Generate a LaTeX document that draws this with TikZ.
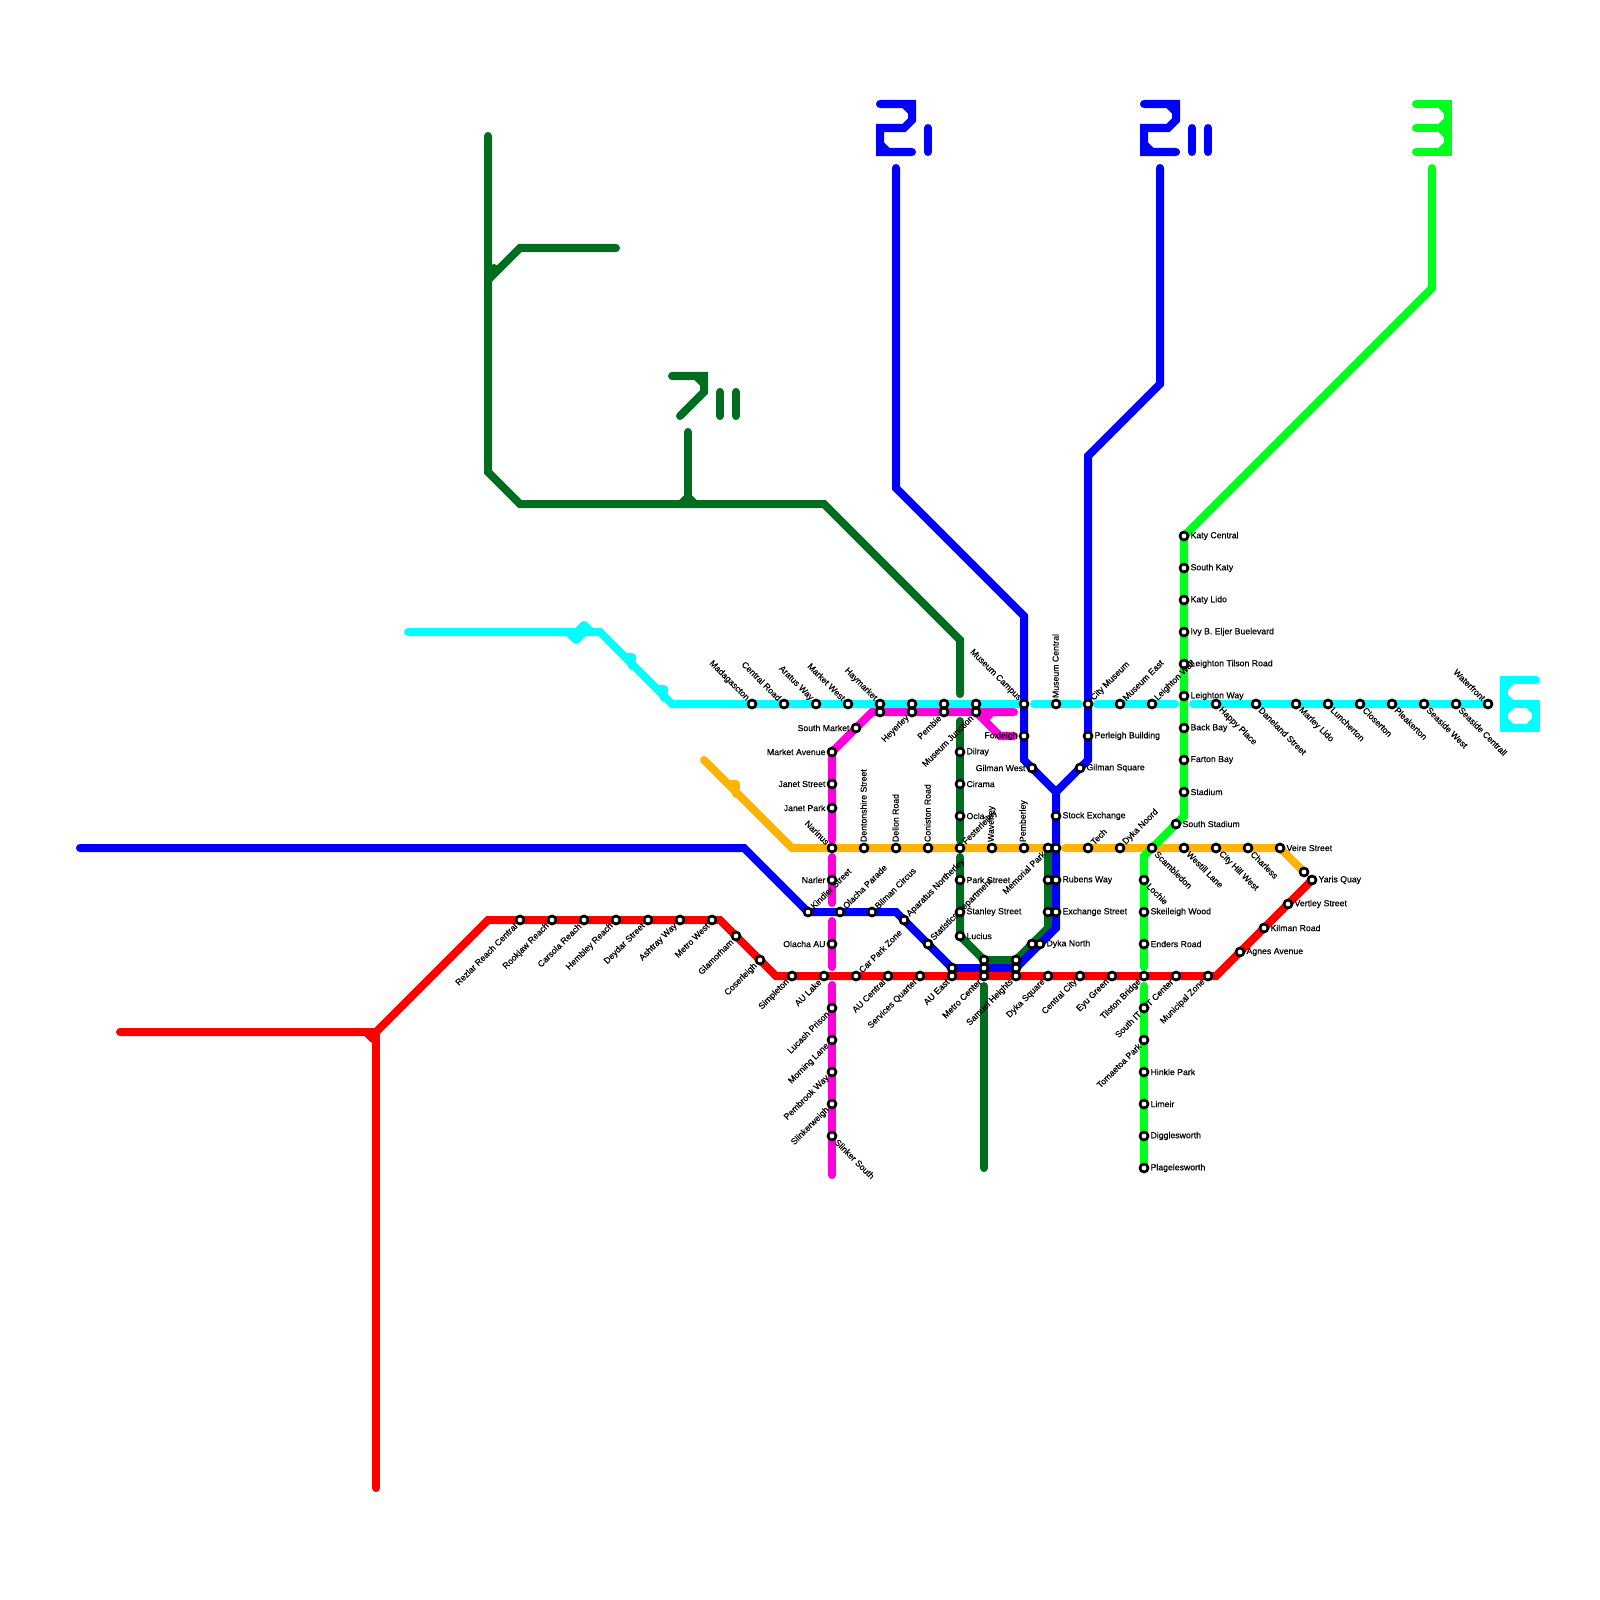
\documentclass[tikz,border=0pt]{standalone}
\usepackage{fontspec}
\setmainfont{Liberation Sans}
\newfontfamily\mapfont[FakeBold=0.5]{Liberation Sans}
\usetikzlibrary{backgrounds}
\definecolor{redline}{RGB}{255,0,0}
\definecolor{blueline}{RGB}{0,0,255}
\definecolor{cyanline}{RGB}{0,255,255}
\definecolor{pinkline}{RGB}{255,0,220}
\definecolor{amberline}{RGB}{255,180,0}
\definecolor{darkline}{RGB}{0,110,30}
\definecolor{limeline}{RGB}{0,255,30}
\tikzset{
  route/.style={draw=#1, line width=0.08cm, line cap=round, miter limit=4},
  stub/.style={draw=#1, line width=0.08cm, line cap=round, line join=round},
  stn/.style={draw=black, fill=white, circle, line width=0.027cm, minimum size=0.08cm,
              inner sep=0pt},
  slab/.style={font=\mapfont\fontsize{2.48}{3}\selectfont, inner sep=0pt, text=black},
  labr/.style={label={[slab, anchor=west]0:{#1}}},
  labl/.style={label={[slab, anchor=east]180:{#1}}},
  labu/.style={label={[slab, rotate=90, anchor=west]90:{#1}}},
  labur/.style={label={[slab, rotate=45, anchor=west]45:{#1}}},
  labul/.style={label={[slab, rotate=-45, anchor=east]135:{#1}}},
  labdl/.style={label={[slab, rotate=45, anchor=east]225:{#1}}},
  labdr/.style={label={[slab, rotate=-45, anchor=west]315:{#1}}},
}
\begin{document}
\begin{tikzpicture}[x=0.01cm, y=-0.01cm, label distance=0.005cm]
\useasboundingbox (0,0) rectangle (1600,1600);

% red stations
\node[stn, labdl=Rezlar Reach Central] (rezlar) at (520,920) {};
\node[stn, labdl=Rookjaw Reach] (rookjaw) at (552,920) {};
\node[stn, labdl=Carsola Reach] (carsola) at (584,920) {};
\node[stn, labdl=Hembley Reach] (hembley) at (616,920) {};
\node[stn, labdl=Deydar Street] (deydar) at (648,920) {};
\node[stn, labdl=Ashtray Way] (ashtray) at (680,920) {};
\node[stn, labdl=Metro West] (metrowest) at (712,920) {};
\node[stn, labdl=Glamorham] (glamorham) at (736,936) {};
\node[stn, labdl=Coserleigh] (coserleigh) at (760,960) {};
\node[stn, labdl=Simpleton] (simpleton) at (792,976) {};
\node[stn, labdl=AU Lake] (aulake) at (824,976) {};
\node[stn, labur=Car Park Zone] (carpark) at (856,976) {};
\node[stn, labdl=AU Central] (aucentral) at (888,976) {};
\node[stn, labdl=Services Quarter] (services) at (920,976) {};
\node[stn, labdl=AU East] (aueast) at (952,976) {};
\node[stn, labdl=Metro Center] (metrocenter) at (984,976) {};
\node[stn, labdl=Samuel Heights] (samuel) at (1016,976) {};
\node[stn, labdl=Dyka Square] (dykasquare) at (1048,976) {};
\node[stn, labdl=Central City] (centralcity) at (1080,976) {};
\node[stn, labdl=Eyu Green] (eyugreen) at (1112,976) {};
\node[stn, labdl=Tilston Bridge] (tilston) at (1144,976) {};
\node[stn, labdl=IT Center] (itcenter) at (1176,976) {};
\node[stn, labdl=Municipal Zone] (municipal) at (1208,976) {};
\node[stn, labr=Agnes Avenue] (agnes) at (1240,952) {};
\node[stn, labr=Kilman Road] (kilman) at (1264,928) {};
\node[stn, labr=Vertley Street] (vertley) at (1288,904) {};
\node[stn, labr=Yaris Quay] (yaris) at (1312,880) {};

% cyan stations
\node[stn, labul=Madagascton] (madagascton) at (752,704) {};
\node[stn, labul=Central Road] (centralroad) at (784,704) {};
\node[stn, labul=Aratus Way] (aratus) at (816,704) {};
\node[stn, labul=Market West] (marketwest) at (848,704) {};
\node[stn, labul=Haymarket] (haymarket) at (880,704) {};
\node[stn] (cyan912) at (912,704) {};
\node[stn] (cyan944) at (944,704) {};
\node[stn] (cyan976) at (976,704) {};
\node[stn, labul=Museum Campus] (museumcampus) at (1024,704) {};
\node[stn, labu=Museum Central] (museumcentral) at (1056,704) {};
\node[stn, labur=City Museum] (citymuseum) at (1088,704) {};
\node[stn, labur=Museum East] (museumeast) at (1120,704) {};
\node[stn, labur=Leighton Wall] (leightonwall) at (1152,704) {};
\node[stn, labdr=Happy Place] (happy) at (1216,704) {};
\node[stn, labdr=Daneland Street] (daneland) at (1256,704) {};
\node[stn, labdr=Marley Lido] (marley) at (1296,704) {};
\node[stn, labdr=Luncherton] (luncherton) at (1328,704) {};
\node[stn, labdr=Closerton] (closerton) at (1360,704) {};
\node[stn, labdr=Pleakerton] (pleakerton) at (1392,704) {};
\node[stn, labdr=Seaside West] (seasidewest) at (1424,704) {};
\node[stn, labdr=Seaside Centrall] (seasidecentral) at (1456,704) {};
\node[stn, labul=Waterfront] (waterfront) at (1488,704) {};

% magenta stations
\node[stn] (pink880) at (880,712) {};
\node[stn, labdl=Heyerley] (heyerley) at (912,712) {};
\node[stn, labdl=Pembie] (pembie) at (944,712) {};
\node[stn, labdl=Museum Junction] (junction) at (976,712) {};
\node[stn, labl=Foxleigh] (foxleigh) at (1024,736) {};
\node[stn, labl=South Market] (southmarket) at (856,728) {};
\node[stn, labl=Market Avenue] (marketavenue) at (832,752) {};
\node[stn, labl=Janet Street] (janetstreet) at (832,784) {};
\node[stn, labl=Janet Park] (janetpark) at (832,808) {};
\node[stn, labl=Narler] (narler) at (832,880) {};
\node[stn, labl=Olacha AU] (olachaau) at (832,944) {};
\node[stn, labdl=Lucash Prison] (lucash) at (832,1008) {};
\node[stn, labdl=Morning Lane] (morning) at (832,1040) {};
\node[stn, labdl=Pembrook Way] (pembrook) at (832,1072) {};
\node[stn, labdl=Slinkerweigh] (slinkerweigh) at (832,1104) {};
\node[stn, labdr=Slinker South] (slinkersouth) at (832,1136) {};

% amber stations
\node[stn, labul=Narinus] (narinus) at (832,848) {};
\node[stn, labu=Dentonshire Street] (dentonshire) at (864,848) {};
\node[stn, labu=Dellon Road] (dellon) at (896,848) {};
\node[stn, labu=Coniston Road] (coniston) at (928,848) {};
\node[stn, labur=Festerleiley] (festerleiley) at (960,848) {};
\node[stn, labu=Waverley] (waverley) at (992,848) {};
\node[stn, labu=Pemberley] (pemberley) at (1024,848) {};
\node[stn, labdl=Memorial Park] (memorial) at (1048,848) {};
\node[stn] (blue848) at (1056,848) {};
\node[stn, labur=Tech] (tech) at (1088,848) {};
\node[stn, labur=Dyka Noord] (dykanoord) at (1120,848) {};
\node[stn, labdr=Scambledon] (scambledon) at (1152,848) {};
\node[stn, labdr=Westill Lane] (westill) at (1184,848) {};
\node[stn, labdr=City Hill West] (cityhill) at (1216,848) {};
\node[stn, labdr=Charless] (charless) at (1248,848) {};
\node[stn, labr=Veire Street] (veire) at (1280,848) {};
\node[stn] (amberend) at (1304,872) {};

% blue stations
\node[stn, labr=Perleigh Building] (perleigh) at (1088,736) {};
\node[stn, labl=Gilman West] (gilmanwest) at (1032,768) {};
\node[stn, labr=Gilman Square] (gilmansquare) at (1080,768) {};
\node[stn, labr=Stock Exchange] (stock) at (1056,816) {};
\node[stn, labr=Rubens Way] (rubens) at (1056,880) {};
\node[stn, labr=Exchange Street] (exchange) at (1056,912) {};
\node[stn, labr=Dyka North] (dykanorth) at (1040,944) {};
\node[stn] (blue1016) at (1016,968) {};
\node[stn] (blue984) at (984,968) {};
\node[stn] (blue952) at (952,968) {};
\node[stn, labur=Statistics Department] (statistics) at (928,944) {};
\node[stn, labur=Aparatus Northerley] (aparatus) at (904,920) {};
\node[stn, labur=Bilman Circus] (bilman) at (872,912) {};
\node[stn, labur=Olacha Parade] (olacha) at (840,912) {};
\node[stn, labur=Kindler Street] (kindler) at (808,912) {};

% dark green stations
\node[stn, labr=Dilray] (dilray) at (960,752) {};
\node[stn, labr=Cirama] (cirama) at (960,784) {};
\node[stn, labr=Ocla] (ocla) at (960,816) {};
\node[stn, labr=Park Street] (parkstreet) at (960,880) {};
\node[stn, labr=Stanley Street] (stanley) at (960,912) {};
\node[stn, labr=Lucius] (lucius) at (960,936) {};
\node[stn] (dark984) at (984,960) {};
\node[stn] (dark1016) at (1016,960) {};
\node[stn] (dark944) at (1032,944) {};
\node[stn] (dark912) at (1048,912) {};
\node[stn] (dark880) at (1048,880) {};

% lime stations
\node[stn, labr=Katy Central] (katycentral) at (1184,536) {};
\node[stn, labr=South Katy] (southkaty) at (1184,568) {};
\node[stn, labr=Katy Lido] (katylido) at (1184,600) {};
\node[stn, labr=Ivy B. Eljer Buelevard] (ivy) at (1184,632) {};
\node[stn, labr=Leighton Tilson Road] (tilsonroad) at (1184,664) {};
\node[stn, labr=Leighton Way] (leightonway) at (1184,696) {};
\node[stn, labr=Back Bay] (backbay) at (1184,728) {};
\node[stn, labr=Farton Bay] (farton) at (1184,760) {};
\node[stn, labr=Stadium] (stadium) at (1184,792) {};
\node[stn, labr=South Stadium] (southstadium) at (1176,824) {};
\node[stn, labdr=Lochie] (lochie) at (1144,880) {};
\node[stn, labr=Skeileigh Wood] (skeileigh) at (1144,912) {};
\node[stn, labr=Enders Road] (enders) at (1144,944) {};
\node[stn, labdl=South IT] (southit) at (1144,1008) {};
\node[stn, labdl=Tomaetoa Park] (tomaetoa) at (1144,1040) {};
\node[stn, labr=Hinkle Park] (hinkle) at (1144,1072) {};
\node[stn, labr=Limeir] (limeir) at (1144,1104) {};
\node[stn, labr=Digglesworth] (digglesworth) at (1144,1136) {};
\node[stn, labr=Plagelesworth] (plagelesworth) at (1144,1168) {};

% bends and line ends
\coordinate (redA) at (120,1032);
\coordinate (redB) at (376,1032);
\coordinate (redC) at (488,920);
\coordinate (redD) at (720,920);
\coordinate (redE) at (776,976);
\coordinate (redF) at (1216,976);
\coordinate (redG) at (376,1488);
\coordinate (blueA) at (896,168);
\coordinate (blueB) at (896,488);
\coordinate (blueC) at (1024,616);
\coordinate (blueD) at (1024,760);
\coordinate (blueE) at (1056,792);
\coordinate (blueF) at (1056,928);
\coordinate (blueG) at (896,912);
\coordinate (blueH) at (744,848);
\coordinate (blueI) at (80,848);
\coordinate (blueJ) at (1160,168);
\coordinate (blueK) at (1160,384);
\coordinate (blueL) at (1088,456);
\coordinate (blueM) at (1088,760);
\coordinate (cyanA) at (408,632);
\coordinate (cyanB) at (600,632);
\coordinate (cyanC) at (672,704);
\coordinate (cyanD) at (1034,704);
\coordinate (cyanE) at (1079,704);
\coordinate (cyanF) at (1097,704);
\coordinate (cyanG) at (1175,704);
\coordinate (cyanH) at (1193,704);
\coordinate (pinkA) at (872,712);
\coordinate (pinkB) at (1014,712);
\coordinate (pinkC) at (1000,736);
\coordinate (pinkD) at (1014,736);
\coordinate (pinkE) at (832,840);
\coordinate (pinkF) at (832,857);
\coordinate (pinkG) at (832,903);
\coordinate (pinkH) at (832,921);
\coordinate (pinkI) at (832,967);
\coordinate (pinkJ) at (832,985);
\coordinate (pinkK) at (832,1175);
\coordinate (amberA) at (704,760);
\coordinate (amberB) at (792,848);
\coordinate (amberC) at (1065,848);
\coordinate (darkA) at (488,136);
\coordinate (darkB) at (488,472);
\coordinate (darkC) at (520,504);
\coordinate (darkD) at (824,504);
\coordinate (darkE) at (960,640);
\coordinate (darkF) at (960,694);
\coordinate (darkG) at (960,721);
\coordinate (darkH) at (960,840);
\coordinate (darkI) at (960,857);
\coordinate (darkJ) at (1048,928);
\coordinate (darkK) at (984,986);
\coordinate (darkL) at (984,1168);
\coordinate (darkM) at (488,280);
\coordinate (darkN) at (520,248);
\coordinate (darkO) at (616,248);
\coordinate (darkP) at (688,432);
\coordinate (darkQ) at (688,504);
\coordinate (limeA) at (1432,168);
\coordinate (limeB) at (1432,288);
\coordinate (limeC) at (1184,816);
\coordinate (limeD) at (1144,856);
\coordinate (limeE) at (1144,967);
\coordinate (limeF) at (1144,986);

\begin{pgfonlayer}{background}
% dark green
\draw[route=darkline] (darkA) -- (darkB) -- (darkC) -- (darkD) -- (darkE) -- (darkF);
\draw[route=darkline] (darkG) -- (darkH);
\draw[route=darkline] (darkI) -- (lucius.center) -- (dark984.center) -- (dark1016.center) -- (darkJ) -- (memorial.center);
\draw[route=darkline] (darkK) -- (darkL);
\draw[route=darkline] (darkM) -- (darkN) -- (darkO);
\draw[route=darkline] (darkP) -- (darkQ);
\draw[stub=darkline] (682,503) -- (688,497) -- (694,503);
\draw[stub=darkline] (490,272) -- (494,268);
% magenta
\draw[route=pinkline] (pinkB) -- (pinkA) -- (marketavenue.center) -- (pinkE);
\draw[route=pinkline] (junction.center) -- (pinkC) -- (pinkD);
\draw[stub=pinkline] (984,720) -- (992,712);
\draw[route=pinkline] (pinkF) -- (pinkG);
\draw[route=pinkline] (pinkH) -- (pinkI);
\draw[route=pinkline] (pinkJ) -- (pinkK);
% cyan
\draw[route=cyanline] (cyanA) -- (cyanB) -- (cyanC) -- (museumcampus.center);
\draw[route=cyanline] (cyanD) -- (cyanE);
\draw[route=cyanline] (cyanF) -- (cyanG);
\draw[route=cyanline] (cyanH) -- (waterfront.center);
\draw[stub=cyanline] (590,631) -- (584,625) -- (576,633);
\draw[stub=cyanline] (568,632) -- (576,640) -- (584,632);
\draw[stub=cyanline] (627,657) -- (632,657) -- (632,666);
\draw[stub=cyanline] (659,689) -- (664,689) -- (664,698);
% amber
\draw[route=amberline] (amberA) -- (amberB) -- (blue848.center);
\draw[route=amberline] (amberC) -- (veire.center) -- (amberend.center);
\draw[stub=amberline] (730,784) -- (736,784) -- (736,794);
% lime
\draw[route=limeline] (limeA) -- (limeB) -- (katycentral.center) -- (limeC) -- (limeD) -- (limeE);
\draw[route=limeline] (limeF) -- (plagelesworth.center);
% blue
\draw[route=blueline] (blueA) -- (blueB) -- (blueC) -- (blueD) -- (blueE) -- (blueF) -- (blue1016.center) -- (blue952.center) -- (blueG) -- (kindler.center) -- (blueH) -- (blueI);
\draw[route=blueline] (blueJ) -- (blueK) -- (blueL) -- (blueM) -- (blueE);
% red
\draw[route=redline] (redA) -- (redB) -- (redC) -- (redD) -- (redE) -- (redF) -- (yaris.center);
\draw[route=redline] (redB) -- (redG);
\draw[stub=redline] (368,1034) -- (373,1039);
\end{pgfonlayer}

% line numbers
\draw[route=blueline] (880,104) -- (912,104) -- (912,120) -- (904,128) -- (880,128) -- (880,152) -- (912,152);
\draw[route=blueline] (904,104) -- (912,112);
\draw[route=blueline] (880,144) -- (888,152);
\draw[route=blueline] (928,128) -- (928,152);
\draw[route=blueline] (1144,104) -- (1176,104) -- (1176,120) -- (1168,128) -- (1144,128) -- (1144,152) -- (1176,152);
\draw[route=blueline] (1168,104) -- (1176,112);
\draw[route=blueline] (1144,144) -- (1152,152);
\draw[route=blueline] (1192,128) -- (1192,152);
\draw[route=blueline] (1208,128) -- (1208,152);
\draw[route=darkline] (672,376) -- (704,376) -- (704,392) -- (680,416);
\draw[route=darkline] (696,376) -- (704,384);
\draw[route=darkline] (720,392) -- (720,416);
\draw[route=darkline] (736,392) -- (736,416);
\draw[route=limeline] (1416,104) -- (1448,104) -- (1448,152) -- (1416,152);
\draw[route=limeline] (1416,128) -- (1440,128);
\draw[route=limeline] (1440,104) -- (1448,112);
\draw[route=limeline] (1448,120) -- (1440,128) -- (1448,136);
\draw[route=limeline] (1448,144) -- (1440,152);
\draw[route=cyanline] (1536,680) -- (1504,680) -- (1504,728) -- (1536,728) -- (1536,704) -- (1504,704);
\draw[route=cyanline] (1504,688) -- (1512,680);
\draw[route=cyanline] (1504,696) -- (1512,704) -- (1504,712);
\draw[route=cyanline] (1528,704) -- (1536,712);
\draw[route=cyanline] (1536,720) -- (1528,728);
\draw[route=cyanline] (1512,728) -- (1504,720);

\end{tikzpicture}
\end{document}
